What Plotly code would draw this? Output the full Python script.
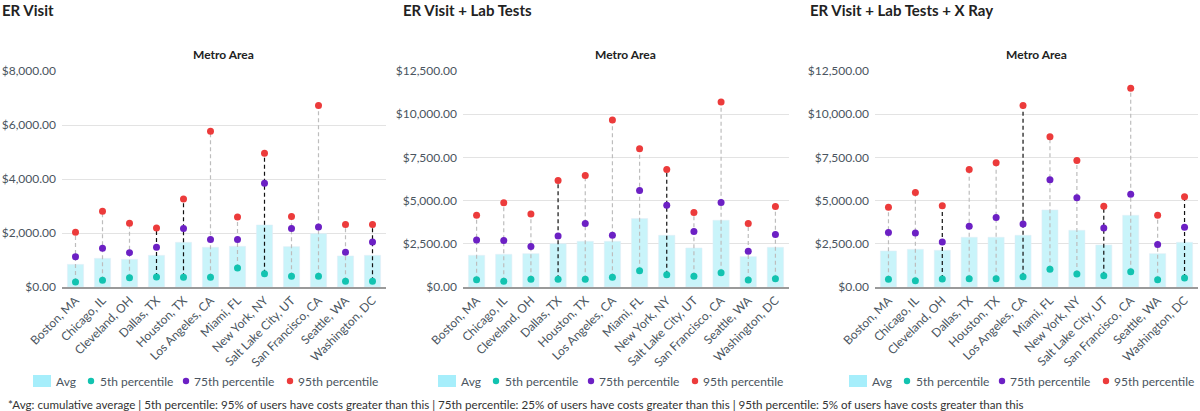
import plotly.graph_objects as go

cities = ["Boston, MA", "Chicago, IL", "Cleveland, OH", "Dallas, TX", "Houston, TX",
          "Los Angeles, CA", "Miami, FL", "New York, NY", "Salt Lake City, UT",
          "San Francisco, CA", "Seattle, WA", "Washington, DC"]

panel_titles = ["ER Visit", "ER Visit + Lab Tests", "ER Visit + Lab Tests + X Ray"]
series_names = ["Avg", "5th percentile", "75th percentile", "95th percentile"]

# ER Visit
er_avg = [840, 1063, 1026, 1174, 1656, 1471, 1508, 2299, 1496, 1978, 1150, 1174]
er_p5 = [185, 247, 346, 371, 358, 358, 705, 494, 396, 396, 210, 210]
er_p75 = [1125, 1434, 1273, 1471, 2163, 1755, 1755, 3844, 2163, 2225, 1286, 1669]
er_p95 = [2027, 2806, 2361, 2188, 3263, 5773, 2596, 4957, 2608, 6724, 2311, 2311]
er_hl = [0, 0, 0, 1, 1, 0, 0, 1, 0, 0, 0, 1]

# ER Visit + Lab Tests
lab_avg = [1835, 1893, 1932, 2512, 2647, 2647, 3961, 2995, 2260, 3864, 1758, 2299]
lab_p5 = [425, 328, 444, 444, 444, 560, 947, 715, 618, 831, 406, 483]
lab_p75 = [2724, 2685, 2338, 2956, 3671, 2995, 5583, 4733, 3207, 4888, 2067, 3033]
lab_p95 = [4154, 4869, 4231, 6163, 6453, 9660, 7998, 6801, 4308, 10703, 3671, 4656]
lab_hl = [0, 0, 0, 1, 0, 0, 0, 1, 0, 0, 0, 0]

# ER Visit + Lab Tests + X Ray
xr_avg = [2087, 2183, 2125, 2879, 2879, 2995, 4463, 3284, 2434, 4154, 1932, 2589]
xr_p5 = [444, 367, 464, 483, 483, 599, 1024, 753, 657, 889, 425, 522]
xr_p75 = [3149, 3130, 2608, 3516, 4019, 3651, 6202, 5158, 3420, 5371, 2454, 3458]
xr_p95 = [4617, 5467, 4695, 6801, 7187, 10510, 8694, 7322, 4675, 11495, 4154, 5216]
xr_hl = [0, 0, 1, 0, 0, 1, 0, 0, 1, 0, 0, 1]

y_max = [8000, 12500, 12500]
y_dtick = [2000, 2500, 2500]

panels = [
    (er_avg, er_p5, er_p75, er_p95, er_hl),
    (lab_avg, lab_p5, lab_p75, lab_p95, lab_hl),
    (xr_avg, xr_p5, xr_p75, xr_p95, xr_hl),
]

FONT = "Lato"
C_BAR = "#c9f4fa"
C_SWATCH = "#a6eefb"
C_P5 = "#12c3b0"
C_P75 = "#6c20c4"
C_P95 = "#ec3b3b"
TXT = "#4a5560"

W, H = 1200, 411
x_domains = [(62 / W, 386 / W), (463 / W, 789 / W), (875 / W, 1198 / W)]
y_dom = (1 - 287 / H, 1 - 71 / H)
legend_start = [33, 438, 849]


def px(x):
    return x / W


def py(y):
    return 1 - y / H


fig = go.Figure()
layout = {}

for i, (avg, p5, p75, p95, hl) in enumerate(panels):
    n = "" if i == 0 else str(i + 1)
    xa, ya = "x" + n, "y" + n

    fig.add_trace(go.Bar(x=cities, y=avg, name=series_names[0], marker_color=C_BAR,
                         width=0.6, xaxis=xa, yaxis=ya, showlegend=False))

    for flag, color in [(0, "#bdbdbd"), (1, "#111111")]:
        lx, ly = [], []
        for c, a, b, h in zip(cities, p5, p95, hl):
            if h == flag:
                lx += [c, c, None]
                ly += [a, b, None]
        fig.add_trace(go.Scatter(x=lx, y=ly, mode="lines",
                                 line=dict(color=color, width=1.2, dash="4px,3px"),
                                 showlegend=False, hoverinfo="skip",
                                 xaxis=xa, yaxis=ya))

    for vals, name, color in [(p5, series_names[1], C_P5), (p75, series_names[2], C_P75),
                              (p95, series_names[3], C_P95)]:
        fig.add_trace(go.Scatter(x=cities, y=vals, mode="markers", name=name,
                                 marker=dict(color=color, size=7),
                                 xaxis=xa, yaxis=ya, showlegend=False))

    layout["xaxis" + n] = dict(domain=list(x_domains[i]), anchor=ya, tickangle=-45,
                               showgrid=False, showline=True, linecolor="#9a9a9a", linewidth=1.5,
                               tickfont=dict(family=FONT, size=12, color=TXT),
                               ticks="", range=[-0.5, 11.5], automargin=False)
    layout["yaxis" + n] = dict(domain=list(y_dom), anchor=xa, range=[0, y_max[i]],
                               dtick=y_dtick[i], tickformat="$,.2f",
                               gridcolor="#e3e3e3", gridwidth=1, zeroline=False,
                               tickfont=dict(family=FONT, size=12, color=TXT),
                               ticks="", ticklabelstandoff=5, automargin=False)

annotations = []
shapes = []
title_x = [0, 401, 808]
for i, t in enumerate(panel_titles):
    annotations.append(dict(text="<b>" + t + "</b>", x=px(title_x[i]), xref="paper", xanchor="left",
                            y=py(10), yref="paper", yanchor="middle", showarrow=False,
                            font=dict(family=FONT, size=15, color="#222222")))
    cx = (x_domains[i][0] + x_domains[i][1]) / 2
    annotations.append(dict(text="<b>Metro Area</b>", x=cx, xref="paper", xanchor="center",
                            y=py(54), yref="paper", yanchor="middle", showarrow=False,
                            font=dict(family=FONT, size=12, color="#222222")))

    # legend (drawn with shapes + text)
    s = legend_start[i]
    ly = 381
    shapes.append(dict(type="rect", xref="paper", yref="paper", x0=px(s), x1=px(s + 18),
                       y0=py(ly + 6), y1=py(ly - 6), fillcolor=C_SWATCH, line=dict(width=0)))
    annotations.append(dict(text=series_names[0], x=px(s + 21), xref="paper", xanchor="left",
                            y=py(ly), yref="paper", yanchor="middle", showarrow=False,
                            font=dict(family=FONT, size=12, color=TXT)))
    for off_dot, off_txt, name, color in [(58, 65, series_names[1], C_P5),
                                          (153, 159, series_names[2], C_P75),
                                          (257, 263, series_names[3], C_P95)]:
        shapes.append(dict(type="circle", xref="paper", yref="paper",
                           x0=px(s + off_dot - 3.2), x1=px(s + off_dot + 3.2),
                           y0=py(ly + 3.2), y1=py(ly - 3.2), fillcolor=color, line=dict(width=0)))
        annotations.append(dict(text=name, x=px(s + off_txt), xref="paper", xanchor="left",
                                y=py(ly), yref="paper", yanchor="middle", showarrow=False,
                                font=dict(family=FONT, size=12, color=TXT)))

annotations.append(dict(
    text="*Avg: cumulative average | 5th percentile: 95% of users have costs greater than this | "
         "75th percentile: 25% of users have costs greater than this | 95th percentile: 5% of users have costs greater than this",
    x=px(6), xref="paper", xanchor="left", y=py(404), yref="paper", yanchor="middle",
    showarrow=False, font=dict(family=FONT, size=11.6, color="#333333")))

fig.update_layout(width=W, height=H, margin=dict(l=0, r=0, t=0, b=0, autoexpand=False),
                  plot_bgcolor="white", paper_bgcolor="white", bargap=0.4, showlegend=False,
                  annotations=annotations, shapes=shapes, hovermode=False, **layout)

fig.write_html("out.html")
